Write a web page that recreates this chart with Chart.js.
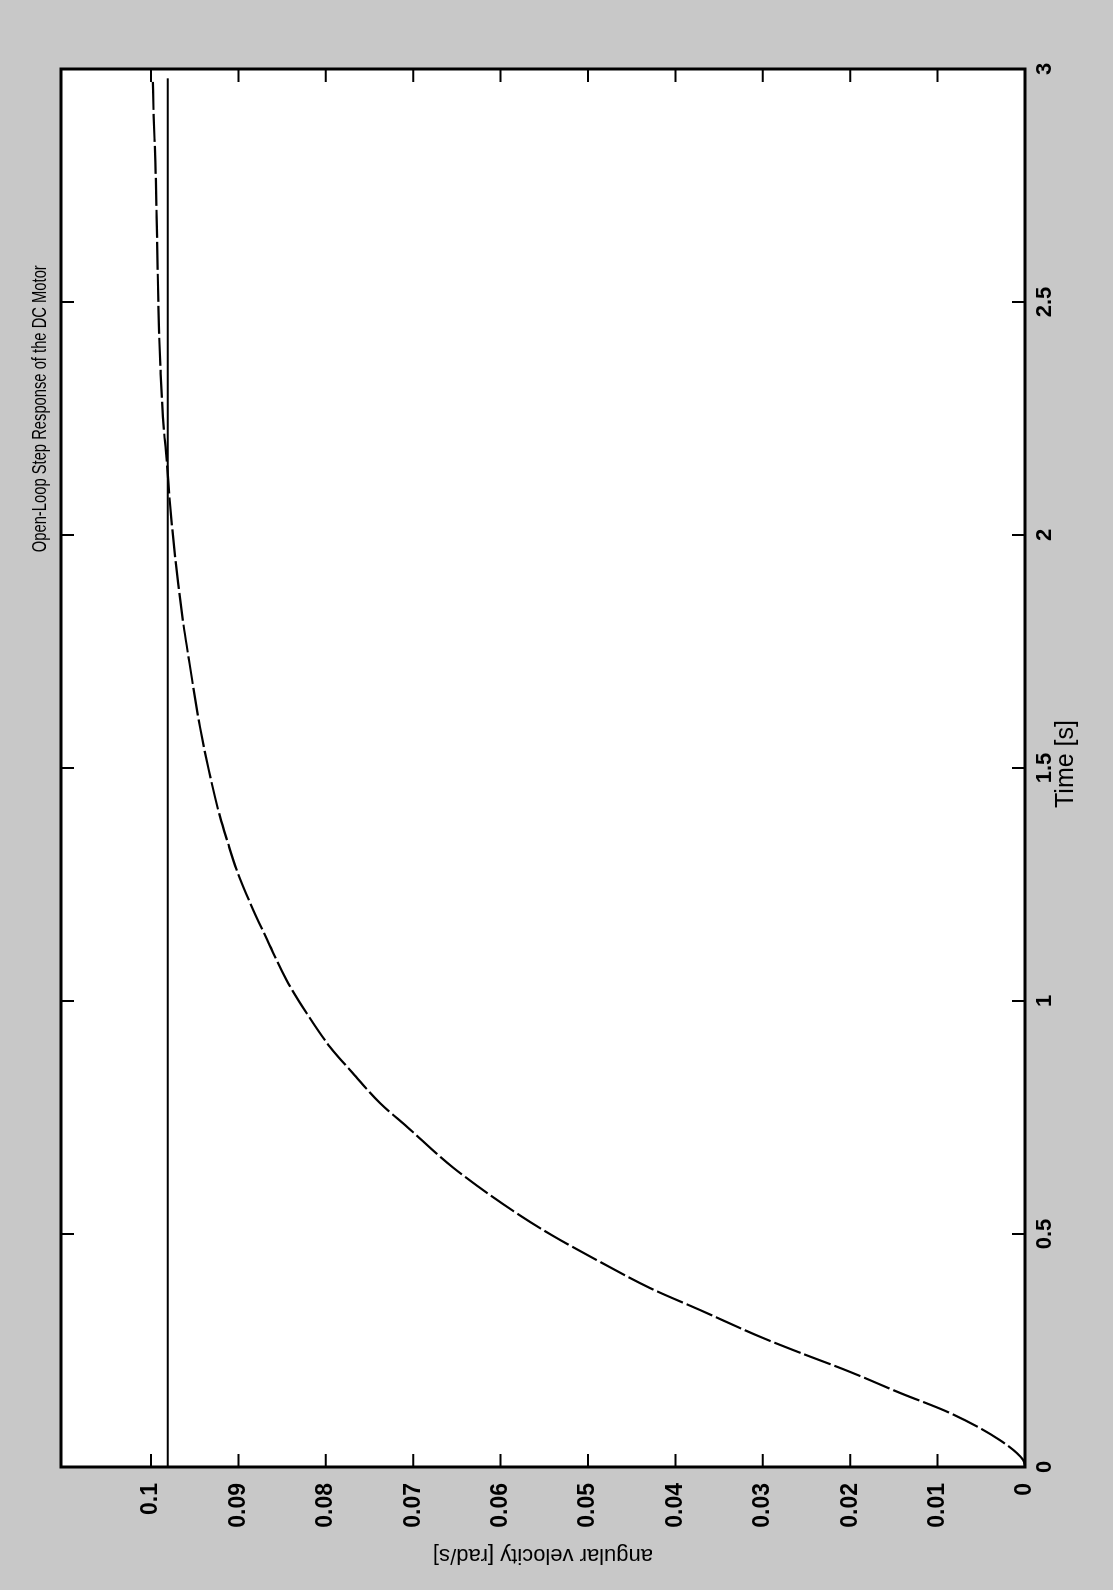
<!DOCTYPE html>
<html>
<head>
<meta charset="utf-8">
<script src="https://cdn.jsdelivr.net/npm/chart.js@4.4.1/dist/chart.umd.min.js"></script>
<style>
html,body{margin:0;padding:0;width:1113px;height:1590px;overflow:hidden;background:#c8c8c8;}
#wrap{position:absolute;left:0;top:0;width:1590px;height:1113px;transform-origin:0 0;transform:translate(0px,1590px) rotate(-90deg);}
canvas{display:block;}
</style>
</head>
<body>
<div id="wrap"><canvas id="c" width="1590" height="1113"></canvas></div>
<script>
// ---- data read from the (rotated) scan ----
const chartTitle = 'Open-Loop Step Response of the DC Motor';
const timeLabel = 'Time [s]';
const velocityLabel = 'angular velocity [rad/s]';

const timeTicks = [0, 0.5, 1, 1.5, 2, 2.5, 3];
const timeTickLabels = ['0', '0.5', '1', '1.5', '2', '2.5', '3'];
const velocityTicks = [0, 0.01, 0.02, 0.03, 0.04, 0.05, 0.06, 0.07, 0.08, 0.09, 0.1];
const velocityTickLabels = ['0', '0.01', '0.02', '0.03', '0.04', '0.05', '0.06', '0.07', '0.08', '0.09', '0.1'];

// step response (time in s, angular velocity in rad/s)
const responseTime = [0, 0.015, 0.058, 0.116, 0.159, 0.204, 0.245, 0.277, 0.337, 0.384, 0.440, 0.496, 0.540, 0.642, 0.730, 0.781, 0.845, 0.901, 0.974, 1.045, 1.131, 1.195, 1.281, 1.345, 1.395, 1.496, 1.588, 1.725, 1.796, 1.897, 2.039, 2.182, 2.22, 2.35, 2.45, 2.63, 2.80, 2.90, 2.98];
const responseVelocity = [0, 0.0002, 0.0029, 0.0086, 0.0143, 0.0200, 0.0257, 0.0300, 0.0372, 0.0429, 0.0486, 0.0540, 0.0578, 0.0654, 0.0707, 0.0738, 0.0769, 0.0795, 0.0822, 0.0845, 0.0867, 0.0883, 0.0902, 0.0913, 0.0921, 0.0934, 0.0944, 0.0956, 0.0962, 0.0969, 0.0977, 0.0983, 0.0985, 0.0989, 0.0991, 0.0993, 0.0995, 0.0997, 0.0998];

// horizontal reference line
const referenceTime = [0, 2.98];
const referenceVelocity = [0.0981, 0.0981];

const timeMax = 3;
const velocityMax = 0.1103;

// ---- chart ----
const responsePts = responseTime.map((t, i) => ({x: t, y: responseVelocity[i]}));
const referencePts = referenceTime.map((t, i) => ({x: t, y: referenceVelocity[i]}));

const SANS = "'Liberation Sans','DejaVu Sans',Arial,sans-serif";

const backgroundPlugin = {
  id: 'bg',
  beforeDraw(chart) {
    const {ctx, chartArea: a} = chart;
    ctx.save();
    ctx.fillStyle = '#c8c8c8';
    ctx.fillRect(0, 0, chart.width, chart.height);
    ctx.fillStyle = '#ffffff';
    ctx.fillRect(a.left, a.top, a.right - a.left, a.bottom - a.top);
    ctx.restore();
  }
};

const framePlugin = {
  id: 'frame',
  afterDraw(chart) {
    const {ctx, chartArea: a, scales} = chart;
    const tl = 13;
    ctx.save();
    ctx.strokeStyle = '#000';
    ctx.lineWidth = 2;
    scales.x.ticks.forEach(t => {
      const px = scales.x.getPixelForValue(t.value);
      ctx.beginPath();
      ctx.moveTo(px, a.bottom); ctx.lineTo(px, a.bottom - tl);
      ctx.moveTo(px, a.top); ctx.lineTo(px, a.top + tl);
      ctx.stroke();
    });
    scales.y.ticks.forEach(t => {
      const py = scales.y.getPixelForValue(t.value);
      ctx.beginPath();
      ctx.moveTo(a.left, py); ctx.lineTo(a.left + tl, py);
      ctx.moveTo(a.right, py); ctx.lineTo(a.right - tl, py);
      ctx.stroke();
    });
    ctx.lineWidth = 3;
    ctx.strokeRect(a.left, a.top, a.right - a.left, a.bottom - a.top);
    // title and x label (condensed like the scan)
    ctx.fillStyle = '#000';
    ctx.textBaseline = 'middle';
    ctx.textAlign = 'center';
    ctx.font = '21px ' + SANS;
    ctx.fillText(chartTitle, a.left + (a.right - a.left) * 0.757, 40, 287);
    ctx.font = '25px ' + SANS;
    ctx.fillText(timeLabel, (a.left + a.right) / 2 + 4, 1066, 100);
    ctx.restore();
  }
};

new Chart(document.getElementById('c').getContext('2d'), {
  type: 'scatter',
  data: {
    datasets: [
      {data: responsePts, showLine: true, borderColor: '#000', borderWidth: 2.2, pointRadius: 0, borderDash: [28, 4], cubicInterpolationMode: 'monotone'},
      {data: referencePts, showLine: true, borderColor: '#000', borderWidth: 2, pointRadius: 0}
    ]
  },
  options: {
    responsive: false,
    animation: false,
    devicePixelRatio: 1,
    layout: {padding: {top: 61, right: 69, left: 0, bottom: 0}},
    plugins: {legend: {display: false}, tooltip: {enabled: false}, title: {display: false}},
    scales: {
      x: {
        type: 'linear', position: 'bottom', min: 0, max: timeMax,
        afterBuildTicks: s => { s.ticks = timeTicks.map(v => ({value: v})); },
        afterFit: s => { s.height = 88; },
        ticks: {callback: (v, i) => timeTickLabels[i], color: '#000', padding: 7, maxRotation: 0, autoSkip: false, font: {family: SANS, size: 22, weight: 'bold'}},
        grid: {display: false, drawTicks: false, tickLength: 0},
        border: {display: false}
      },
      y: {
        type: 'linear', position: 'left', min: 0, max: velocityMax,
        afterBuildTicks: s => { s.ticks = velocityTicks.map(v => ({value: v})); },
        afterFit: s => { s.width = 123; },
        ticks: {callback: (v, i) => velocityTickLabels[i], color: '#000', padding: 16, autoSkip: false, font: {family: SANS, size: 23, weight: 'bold'}},
        grid: {display: false, drawTicks: false, tickLength: 0},
        border: {display: false},
        title: {display: true, text: velocityLabel, color: '#000', padding: {top: 22, bottom: 0}, font: {family: SANS, size: 22}}
      }
    }
  },
  plugins: [backgroundPlugin, framePlugin]
});
</script>
</body>
</html>
